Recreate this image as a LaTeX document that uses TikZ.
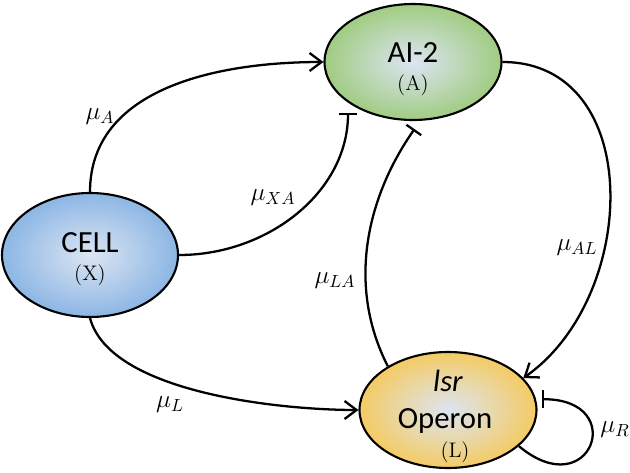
\documentclass[tikz,border=0pt]{standalone}
\usepackage{amsmath}
\usepackage{amssymb}
\usepackage{fontspec}
\usepackage{tikz}
\usepackage{xcolor}
\usetikzlibrary{positioning, arrows.meta}
\usetikzlibrary{shapes}

\newfontfamily\calibrifont{Carlito}

\definecolor{aigreen}{RGB}{160,204,130}
\definecolor{cellblue}{RGB}{140,182,228}
\definecolor{lsryellow}{RGB}{244,203,100}
\definecolor{paleblue}{RGB}{220,229,243}

\tikzset{
    species/.style={ellipse, draw=black, line width=1.2pt, inner sep=0pt,
        minimum width=3.54cm, minimum height=2.32cm,
        shading=radial, inner color=paleblue},
    titletext/.style={font=\calibrifont\fontsize{17.5}{20}\selectfont, inner sep=0pt},
    tagtext/.style={font=\fontsize{12}{14}\selectfont, inner sep=0pt},
    ratelabel/.style={font=\fontsize{14.4}{16}\selectfont, inner sep=0pt},
    act/.style={line width=1.3pt, -{Straight Barb[length=0.24cm, width=0.36cm]}},
    inh/.style={line width=1.3pt, -{Bar[width=0.36cm]}, shorten >=0.2cm}
}

\begin{document}
\begin{tikzpicture}
    \useasboundingbox (0, 0) rectangle (12.6, -9.46);

    \node[species, outer color=aigreen] (A) at (8.26, -1.24) {};
    \node[species, outer color=cellblue, minimum width=3.52cm, minimum height=2.48cm] (X) at (1.8, -5.1) {};
    \node[species, outer color=lsryellow] (L) at (8.96, -8.2) {};

    \node[titletext] (A-title) at (8.26, -1.06) {AI-2};
    \node[tagtext] (A-tag) at (8.26, -1.70) {(A)};
    \node[titletext] (X-title) at (1.8, -4.86) {CELL};
    \node[tagtext] (X-tag) at (1.8, -5.5) {(X)};
    \node[titletext] (L-title) at (8.96, -7.61) {\itshape lsr};
    \node[titletext] (L-op) at (8.9, -8.42) {Operon};
    \node[tagtext] (L-tag) at (9.1, -9.04) {(L)};

    \node[ratelabel] (mu-A) at (2.0, -2.34) {$\mu_A$};
    \node[ratelabel] (mu-XA) at (5.46, -3.96) {$\mu_{XA}$};
    \node[ratelabel] (mu-L) at (3.4, -8.1) {$\mu_L$};
    \node[ratelabel] (mu-AL) at (11.54, -4.96) {$\mu_{AL}$};
    \node[ratelabel] (mu-LA) at (6.7, -5.62) {$\mu_{LA}$};
    \node[ratelabel] (mu-R) at (12.3, -8.6) {$\mu_R$};

    \draw[act] (X.north) to[out=90, in=180] (A.west);
    \draw[inh] (X.east) to[out=0, in=-90] (A.212);
    \draw[act] (X.south) to[out=-75, in=180, looseness=0.7] (L.west);
    \draw[act] (A.east) to[out=0, in=35, looseness=1.15] (L.23);
    \draw[inh] (L.144) to[out=117, in=235, looseness=0.95] (A.277);
    \draw[inh, shorten >=0.12cm] (L.-27) to[out=-40, in=0, looseness=4.8] (L.7);
\end{tikzpicture}
\end{document}
